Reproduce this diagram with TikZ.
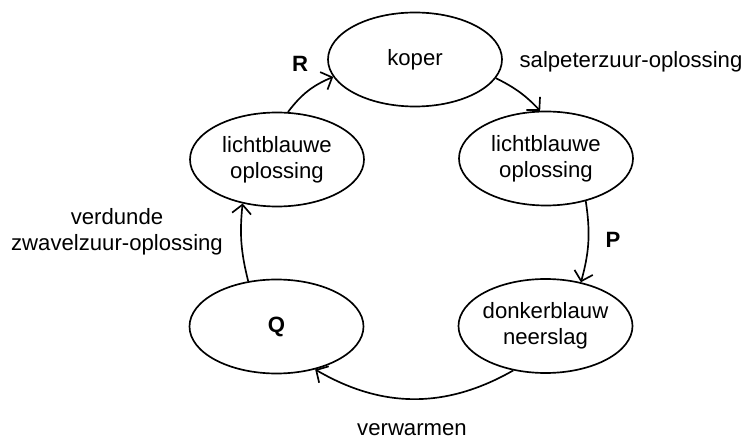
\documentclass[tikz,border=0pt]{standalone}
\usepackage{fontspec}
\setmainfont{Liberation Sans}
\usepackage{tikz}
\usetikzlibrary{arrows.meta,shapes.geometric}

\begin{document}
\begin{tikzpicture}[
  phase/.style={draw,ellipse,line width=0.95pt,inner sep=0pt,inner xsep=-1mm,
    minimum width=3.48cm,minimum height=1.88cm,align=center,
    font=\fontsize{12.6}{14.7}\selectfont},
  flow/.style={-{Straight Barb[length=1.8mm,width=3.8mm]},line width=0.95pt},
  lbl/.style={inner sep=0pt,align=center,font=\fontsize{12.6}{14.7}\selectfont}]
\useasboundingbox (0,0) rectangle (14.92,-8.78);
\node[phase] (koper) at (8.30,-1.19) {koper};
\node[phase] (lichtR) at (10.92,-3.17) {lichtblauwe\\oplossing};
\node[phase] (donker) at (10.91,-6.52) {donkerblauw\\neerslag};
\node[phase] (stofQ) at (5.53,-6.53) {\textbf{Q}};
\node[phase] (lichtL) at (5.54,-3.19) {lichtblauwe\\oplossing};
\node[lbl,anchor=base] (labR) at (6.00,-1.44) {\textbf{R}};
\node[lbl,anchor=base] (labsalp) at (12.62,-1.36) {salpeterzuur-oplossing};
\node[lbl,anchor=base] (labP) at (12.26,-4.96) {\textbf{P}};
\node[lbl,anchor=base] (labwarm) at (8.24,-8.70) {verwarmen};
\node[lbl] (labzwavel) at (2.34,-4.63) {verdunde\\zwavelzuur-oplossing};
\draw[flow] (koper.347.7) to[bend left=10] (lichtR.97.4);
\draw[flow] (lichtR.313.3) to[bend left=12] (donker.51.9);
\draw[flow] (donker.234.5) to[bend left=30] (stofQ.312.8);
\draw[flow] (stofQ.122.4) to[bend left=10] (lichtL.232.4);
\draw[flow] (lichtL.77) to[bend left=15] (koper.192.7);
\end{tikzpicture}
\end{document}
